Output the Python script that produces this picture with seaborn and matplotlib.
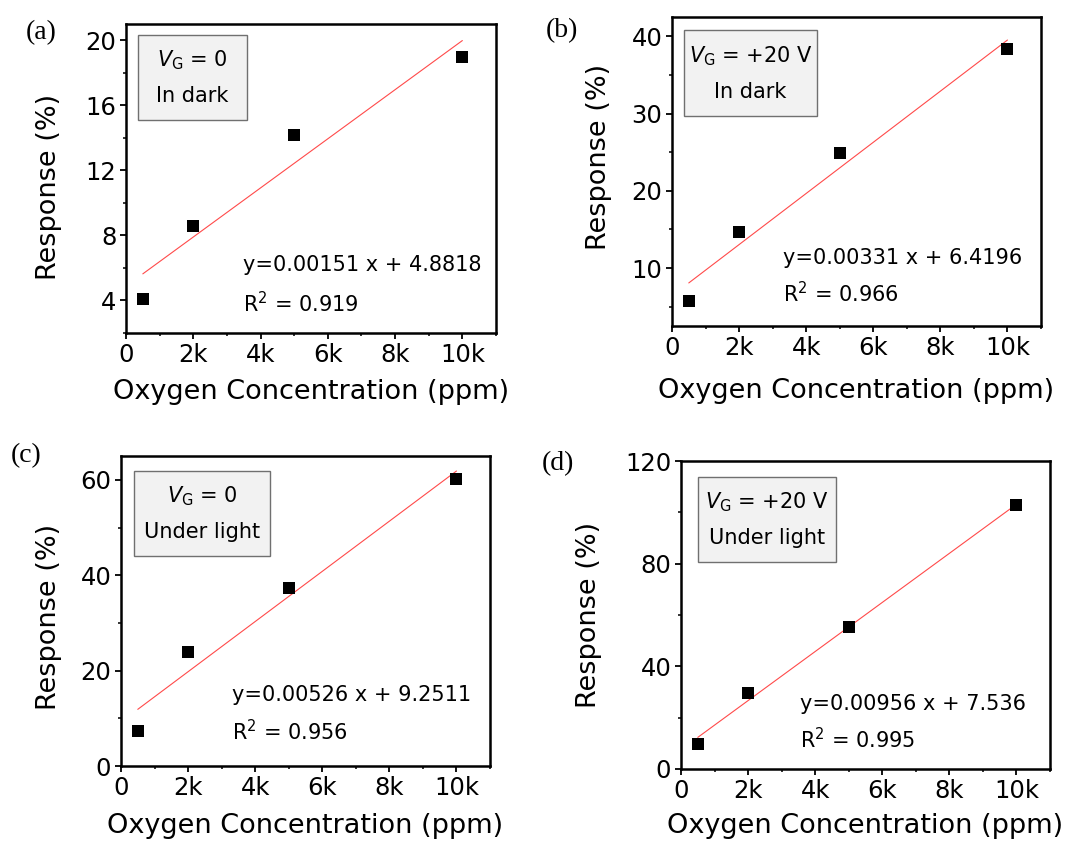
import numpy as np
import pandas as pd
import matplotlib
matplotlib.use("Agg")
import matplotlib.pyplot as plt
from matplotlib.patches import Rectangle
from matplotlib.ticker import MultipleLocator, FuncFormatter
import seaborn as sns

# ---- data -------------------------------------------------------------
concentration = [500, 2000, 5000, 10000]          # ppm
resp_a = [4.1, 8.6, 14.15, 19.0]                  # V_G = 0, in dark
resp_b = [5.7, 14.7, 24.95, 38.3]                 # V_G = +20 V, in dark
resp_c = [7.3, 24.0, 37.3, 60.2]                  # V_G = 0, under light
resp_d = [9.85, 29.5, 55.3, 102.8]                # V_G = +20 V, under light

slopes = [0.00151, 0.00331, 0.00526, 0.00956]
intercepts = [4.8818, 6.4196, 9.2511, 7.536]
r_squared = ["0.919", "0.966", "0.956", "0.995"]
intercept_labels = ["4.8818", "6.4196", "9.2511", "7.536"]

panel_tags = ["(a)", "(b)", "(c)", "(d)"]
gate_labels = ["0", "+20 V", "0", "+20 V"]
light_labels = ["In dark", "In dark", "Under light", "Under light"]

y_limits = [(2, 21), (2.5, 42.5), (0, 65), (0, 120)]
y_major = [4, 10, 20, 40]
y_minor = [2, 5, 10, 20]

# ---- style ------------------------------------------------------------
sns.set_style("ticks")
plt.rcParams["font.family"] = ["DejaVu Sans"]
plt.rcParams["mathtext.fontset"] = "dejavusans"
plt.rcParams["text.color"] = "black"
plt.rcParams["axes.labelcolor"] = "black"
plt.rcParams["xtick.color"] = "black"
plt.rcParams["ytick.color"] = "black"

W, H = 1079, 842
fig = plt.figure(figsize=(W / 100, H / 100), dpi=100)


def fx(px):
    return px / W


def fy(py):
    return 1 - py / H


# layout in pixel units: (left, right, top, bottom)
axes_px = [(126, 496, 24, 333), (672, 1041, 17, 326),
           (121, 490, 456, 766), (681, 1050, 461, 769)]
box_px = [(138, 247, 35, 120), (684, 817, 30, 116),
          (134, 270, 471, 556), (698, 836, 477, 562)]
eq_px = [(243, 265, 303.5), (783, 258.5, 293.5),
         (232, 695, 731.5), (800, 703.5, 740)]
tag_px = [(26, 33), (546, 31), (11, 456), (542, 464)]
xlabel_top = [379, 378, 813, 813]
ylabel_px = [(62, 187), (612, 157), (62, 617), (602, 615)]

panels = [resp_a, resp_b, resp_c, resp_d]

for i, resp in enumerate(panels):
    l, r, t, b = axes_px[i]
    ax = fig.add_axes([fx(l), fy(b), fx(r - l), (b - t) / H])

    df = pd.DataFrame({"conc": concentration, "resp": resp})
    sns.scatterplot(data=df, x="conc", y="resp", ax=ax, marker="s", s=82,
                    color="black", linewidth=0, zorder=3)

    fit_x = np.array([concentration[0], concentration[-1]])
    fit = pd.DataFrame({"conc": fit_x, "resp": slopes[i] * fit_x + intercepts[i]})
    sns.lineplot(data=fit, x="conc", y="resp", ax=ax, color="#ff4a4a",
                 linewidth=0.8, zorder=2)

    ax.set_xlim(0, 11000)
    ax.set_ylim(*y_limits[i])
    ax.xaxis.set_major_locator(MultipleLocator(2000))
    ax.xaxis.set_minor_locator(MultipleLocator(1000))
    ax.xaxis.set_major_formatter(FuncFormatter(
        lambda v, p: "0" if v == 0 else f"{int(v / 1000)}k"))
    ax.yaxis.set_major_locator(MultipleLocator(y_major[i]))
    ax.yaxis.set_minor_locator(MultipleLocator(y_minor[i]))
    ax.yaxis.set_major_formatter(FuncFormatter(lambda v, p: f"{v:g}"))

    for sp in ax.spines.values():
        sp.set_linewidth(1.8)
        sp.set_color("black")
    ax.tick_params(which="major", length=4, width=1.3, labelsize=17.5,
                   direction="out", color="black", labelcolor="black", pad=3)
    ax.tick_params(which="minor", length=2.5, width=1.1, direction="out",
                   color="black")
    ax.tick_params(top=False, right=False, which="both")

    ax.set_xlabel("Oxygen Concentration (ppm)", fontsize=19.5)
    ax.set_ylabel("Response (%)", fontsize=19.5)
    ax.xaxis.set_label_coords(0.5, (b - xlabel_top[i]) / (b - t))
    ylx, yly = ylabel_px[i]
    ax.yaxis.set_label_coords((ylx - l) / (r - l), (b - yly) / (b - t))

    # condition box
    bl, br, bt, bb = box_px[i]
    fig.patches.append(Rectangle((fx(bl), fy(bb)), fx(br - bl), (bb - bt) / H,
                                 transform=fig.transFigure, facecolor="#f2f2f2",
                                 edgecolor="#707070", linewidth=1.0, zorder=5))
    cx = fx((bl + br) / 2)
    fig.text(cx, fy(bt + (bb - bt) * 0.30),
             r"$V_{\mathregular{G}}$ = " + gate_labels[i],
             ha="center", va="center", fontsize=15, zorder=6)
    fig.text(cx, fy(bt + (bb - bt) * 0.72), light_labels[i],
             ha="center", va="center", fontsize=15, zorder=6)

    # fit equation
    ex, ey1, ey2 = eq_px[i]
    fig.text(fx(ex), fy(ey1), f"y={slopes[i]:.5f} x + {intercept_labels[i]}",
             ha="left", va="center", fontsize=15)
    fig.text(fx(ex), fy(ey2), r"R$^{2}$ = " + r_squared[i],
             ha="left", va="center", fontsize=15)

    # panel tag
    tx, ty = tag_px[i]
    fig.text(fx(tx), fy(ty), panel_tags[i], ha="left", va="center",
             fontsize=20, family=["Liberation Serif", "DejaVu Serif"])

fig.savefig("out.png", dpi=100)
